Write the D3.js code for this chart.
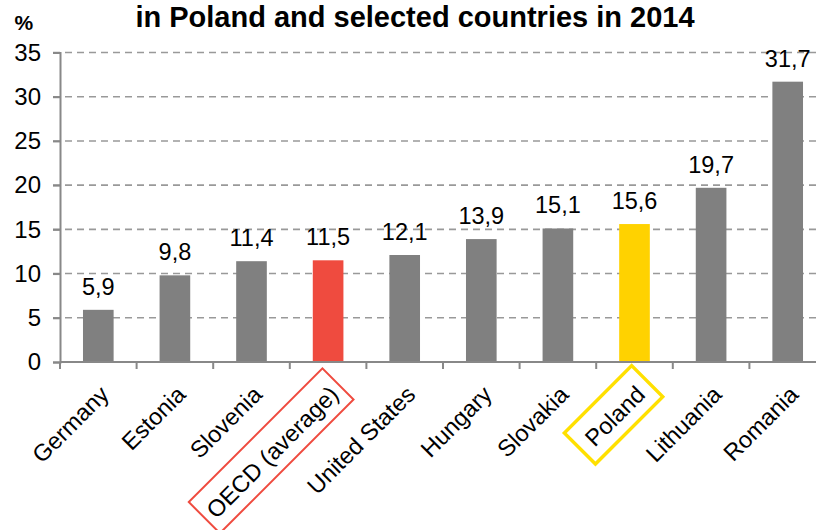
<!DOCTYPE html>
<html>
<head>
<meta charset="utf-8">
<script src="https://cdn.jsdelivr.net/npm/d3@7/dist/d3.min.js"></script>
<style>
  html, body { margin: 0; padding: 0; background: #fff; }
  svg { display: block; font-family: "Liberation Sans", Arial, sans-serif; }
</style>
</head>
<body>
<svg id="chart" width="816" height="530"></svg>
<script>
// Countries and their shares (%) in 2014
const countries = ["Germany", "Estonia", "Slovenia", "OECD (average)", "United States",
                   "Hungary", "Slovakia", "Poland", "Lithuania", "Romania"];
const values = [5.9, 9.8, 11.4, 11.5, 12.1, 13.9, 15.1, 15.6, 19.7, 31.7];
const yTicks = [0, 5, 10, 15, 20, 25, 30, 35];
const titleText = "in Poland and selected countries in 2014";
const unitText = "%";

const highlight = { "OECD (average)": "#ef4b3f", "Poland": "#ffd200" };
const frameColor = { "OECD (average)": "#ef4b3f", "Poland": "#ffe000" };
const frameWidth = { "OECD (average)": 2, "Poland": 3.4 };

const svg = d3.select("#chart");
const plotLeft = 60, plotRight = 826, plotTop = 52.5, plotBottom = 362;

const x = d3.scaleBand().domain(countries).range([plotLeft, plotRight]).paddingInner(0.6).paddingOuter(0.3);
const y = d3.scaleLinear().domain([0, 35]).range([plotBottom, plotTop]);

// title (second line of the heading)
svg.append("text")
  .attr("x", 415).attr("y", 26.8)
  .attr("text-anchor", "middle")
  .style("font-size", "29px").style("font-weight", "bold")
  .text(titleText);

svg.append("text")
  .attr("x", 14.5).attr("y", 30)
  .style("font-size", "21px").style("font-weight", "bold")
  .text(unitText);

// dashed gridlines
svg.append("g").selectAll("line").data(yTicks.filter(d => d > 0)).join("line")
  .attr("x1", plotLeft - 7).attr("x2", 816)
  .attr("y1", d => y(d)).attr("y2", d => y(d))
  .attr("stroke", "#999").attr("stroke-width", 1.6)
  .attr("stroke-dasharray", "7,5");

// y axis
const yAxis = svg.append("g").attr("transform", `translate(${plotLeft},0)`)
  .call(d3.axisLeft(y).tickValues(yTicks).tickSize(7).tickPadding(12).tickFormat(d3.format("d")));
yAxis.select(".domain").attr("stroke", "#888").attr("stroke-width", 2);
yAxis.selectAll(".tick line").attr("stroke", "#888").attr("stroke-width", 2);
yAxis.selectAll(".tick text").style("font-size", "24px").attr("fill", "#000")
  .style("font-family", "'Liberation Sans', Arial, sans-serif");

// bars
svg.append("g").selectAll("rect").data(countries).join("rect")
  .attr("x", d => x(d)).attr("width", x.bandwidth())
  .attr("y", (d, i) => y(values[i])).attr("height", (d, i) => y(0) - y(values[i]))
  .attr("fill", d => highlight[d] || "#808080");

// x axis line and ticks between categories
const step = x.step();
const bounds = d3.range(countries.length + 1).map(i => plotLeft + i * step);
svg.append("line").attr("x1", plotLeft).attr("x2", 816).attr("y1", plotBottom).attr("y2", plotBottom)
  .attr("stroke", "#888").attr("stroke-width", 2);
svg.append("g").selectAll("line").data(bounds).join("line")
  .attr("x1", d => d).attr("x2", d => d).attr("y1", plotBottom).attr("y2", plotBottom + 7)
  .attr("stroke", "#888").attr("stroke-width", 2);

// value labels
const fmt = v => d3.format(".1f")(v).replace(".", ",");
svg.append("g").selectAll("text").data(countries).join("text")
  .attr("x", d => x(d) + x.bandwidth() / 2)
  .attr("y", (d, i) => y(values[i]) - 15)
  .attr("text-anchor", "middle")
  .style("font-size", "23.5px")
  .text((d, i) => fmt(values[i]));

// rotated category labels
const cat = svg.append("g").selectAll("g").data(countries).join("g")
  .attr("transform", d => `translate(${x(d) + x.bandwidth() / 2 + 12},${plotBottom + 34}) rotate(-45)`);
cat.append("text")
  .attr("text-anchor", "end")
  .style("font-size", "23.5px")
  .text(d => d);
cat.filter(d => frameColor[d]).each(function(d) {
  const g = d3.select(this);
  const bb = g.select("text").node().getBBox();
  const padX = d === "Poland" ? 11 : 7;
  g.insert("rect", "text")
    .attr("x", bb.x - padX).attr("y", bb.y - 11)
    .attr("width", bb.width + 2 * padX).attr("height", bb.height + 18)
    .attr("fill", "none")
    .attr("stroke", frameColor[d]).attr("stroke-width", frameWidth[d]);
});
</script>
</body>
</html>
